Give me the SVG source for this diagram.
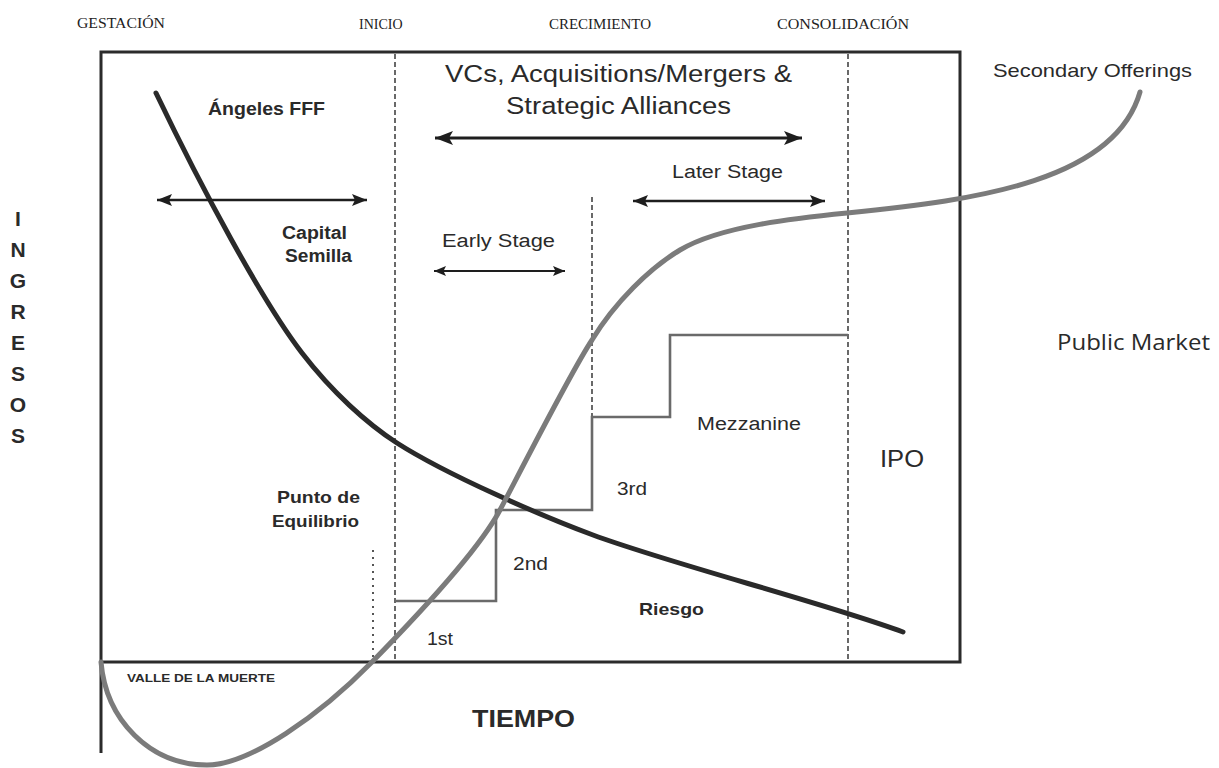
<svg xmlns="http://www.w3.org/2000/svg" width="1219" height="768" viewBox="0 0 1219 768">
  <style>
    .stage { font-family: "Liberation Serif", "Times New Roman", serif; font-size: 14px; fill: #222; }
    .lbl { font-family: "Liberation Sans", Arial, sans-serif; fill: #2a2a2a; }
    .b { font-weight: bold; }
    .frame { stroke: #2b2b2b; stroke-width: 3; fill: none; }
    .dash { stroke: #444; stroke-width: 1.6; stroke-dasharray: 5 3; fill: none; }
    .dot { stroke: #555; stroke-width: 2; stroke-dasharray: 2 5; fill: none; }
    .steps { stroke: #6a6a6a; stroke-width: 2.6; fill: none; }
    .risk { stroke: #2a2a2a; stroke-width: 5; fill: none; stroke-linecap: round; }
    .scurve { stroke: #7b7b7b; stroke-width: 5; fill: none; stroke-linecap: round; }
    .arr { stroke: #1e1e1e; fill: none; }
  </style>
  <defs>
    <marker id="headL" markerUnits="userSpaceOnUse" markerWidth="19" markerHeight="16" refX="18" refY="8" orient="auto-start-reverse">
      <path d="M0,1 L18,8 L0,15 L4,8 Z" fill="#1e1e1e"/>
    </marker>
    <marker id="headM" markerUnits="userSpaceOnUse" markerWidth="16" markerHeight="13" refX="15" refY="6.5" orient="auto-start-reverse">
      <path d="M0,0.5 L15,6.5 L0,12.5 L3,6.5 Z" fill="#1e1e1e"/>
    </marker>
    <marker id="headS" markerUnits="userSpaceOnUse" markerWidth="13" markerHeight="11" refX="12" refY="5.5" orient="auto-start-reverse">
      <path d="M0,0.5 L12,5.5 L0,10.5 L2.5,5.5 Z" fill="#1e1e1e"/>
    </marker>
  </defs>

  <rect width="1219" height="768" fill="#ffffff"/>

  <!-- stage headings -->
  <g id="stages">
    <text class="stage" x="77" y="28" textLength="88" lengthAdjust="spacingAndGlyphs">GESTACIÓN</text>
    <text class="stage" x="359" y="29">INICIO</text>
    <text class="stage" x="549" y="29" textLength="102" lengthAdjust="spacingAndGlyphs">CRECIMIENTO</text>
    <text class="stage" x="777" y="29" textLength="132" lengthAdjust="spacingAndGlyphs">CONSOLIDACIÓN</text>
  </g>

  <!-- chart frame and axes -->
  <g id="frame">
    <path class="frame" d="M101,753 V52 H960 V662 H101"/>
    <line class="dash" x1="395" y1="54" x2="395" y2="661"/>
    <line class="dash" x1="848" y1="54" x2="848" y2="661"/>
    <line class="dash" x1="592" y1="197" x2="592" y2="417"/>
    <line class="dot" x1="373" y1="550" x2="373" y2="661"/>
  </g>

  <!-- financing rounds -->
  <g id="rounds">
    <path class="steps" d="M395,601 H496 V510 H592 V417 H670 V335 H848"/>
  </g>

  <g id="connectors">
    <!-- risk curve -->
    <path id="riesgo-curve" class="risk" d="M156,93 C201,187 262,301 302,353 C332,392 367,423.5 397,443 C447,475 543,516.5 593,535 C673,564.6 823,602.4 903,632"/>
    <!-- revenue S-curve -->
    <path id="ingresos-curve" class="scurve" d="M101,662 C106,720 150,765 207,765 C250,765 320,715 372,662 C420,613 480,548 500,510 C520,472 572,370 592,340 C615,302 650,268 680,250 C720,226 797,218 847,213 C980,200 1115,180 1140,92"/>
    <!-- span arrows -->
    <line class="arr" stroke-width="3" x1="435" y1="138" x2="802" y2="138" marker-start="url(#headL)" marker-end="url(#headL)"/>
    <line class="arr" stroke-width="2.5" x1="157" y1="200" x2="367" y2="200" marker-start="url(#headM)" marker-end="url(#headM)"/>
    <line class="arr" stroke-width="2.5" x1="633" y1="201" x2="825" y2="201" marker-start="url(#headM)" marker-end="url(#headM)"/>
    <line class="arr" stroke-width="2" x1="434" y1="271" x2="565" y2="271" marker-start="url(#headS)" marker-end="url(#headS)"/>
  </g>

  <!-- vertical axis title -->
  <g id="axis-y" class="lbl b" font-size="21" text-anchor="middle">
    <text x="18" y="226">I</text>
    <text x="18" y="257">N</text>
    <text x="18" y="288">G</text>
    <text x="18" y="319">R</text>
    <text x="18" y="350">E</text>
    <text x="18" y="381">S</text>
    <text x="18" y="412">O</text>
    <text x="18" y="443">S</text>
  </g>

  <g id="axis-x">
    <text class="lbl b" x="472" y="727" font-size="23" textLength="103" lengthAdjust="spacingAndGlyphs">TIEMPO</text>
  </g>

  <g id="label-angeles">
    <text class="lbl b" x="208" y="115" font-size="18" textLength="117" lengthAdjust="spacingAndGlyphs">Ángeles FFF</text>
  </g>
  <g id="label-capital">
    <text class="lbl b" x="282" y="239" font-size="18" textLength="65" lengthAdjust="spacingAndGlyphs">Capital</text>
    <text class="lbl b" x="285" y="262" font-size="18" textLength="67" lengthAdjust="spacingAndGlyphs">Semilla</text>
  </g>
  <g id="label-vcs">
    <text class="lbl" x="445" y="82" font-size="23" textLength="347" lengthAdjust="spacingAndGlyphs">VCs, Acquisitions/Mergers &amp;</text>
    <text class="lbl" x="506" y="114" font-size="23" textLength="225" lengthAdjust="spacingAndGlyphs">Strategic Alliances</text>
  </g>
  <g id="label-later">
    <text class="lbl" x="672" y="178" font-size="18" textLength="111" lengthAdjust="spacingAndGlyphs">Later Stage</text>
  </g>
  <g id="label-early">
    <text class="lbl" x="442" y="247" font-size="18" textLength="113" lengthAdjust="spacingAndGlyphs">Early Stage</text>
  </g>
  <g id="label-mezzanine">
    <text class="lbl" x="697" y="430" font-size="18" textLength="104" lengthAdjust="spacingAndGlyphs">Mezzanine</text>
  </g>
  <g id="label-3rd">
    <text class="lbl" x="617" y="495" font-size="18" textLength="30" lengthAdjust="spacingAndGlyphs">3rd</text>
  </g>
  <g id="label-2nd">
    <text class="lbl" x="513" y="570" font-size="18" textLength="35" lengthAdjust="spacingAndGlyphs">2nd</text>
  </g>
  <g id="label-1st">
    <text class="lbl" x="427" y="645" font-size="18" textLength="26" lengthAdjust="spacingAndGlyphs">1st</text>
  </g>
  <g id="label-riesgo">
    <text class="lbl b" x="639" y="615" font-size="17" textLength="65" lengthAdjust="spacingAndGlyphs">Riesgo</text>
  </g>
  <g id="label-equilibrio">
    <text class="lbl b" x="277" y="503" font-size="17" textLength="83" lengthAdjust="spacingAndGlyphs">Punto de</text>
    <text class="lbl b" x="272" y="527" font-size="17" textLength="87" lengthAdjust="spacingAndGlyphs">Equilibrio</text>
  </g>
  <g id="label-valle">
    <text class="lbl b" x="127" y="682" font-size="11.5" textLength="148" lengthAdjust="spacingAndGlyphs">VALLE DE LA MUERTE</text>
  </g>
  <g id="label-ipo">
    <text class="lbl" x="880" y="467" font-size="24" textLength="44" lengthAdjust="spacingAndGlyphs">IPO</text>
  </g>
  <g id="label-secondary">
    <text class="lbl" x="993" y="77" font-size="19" textLength="199" lengthAdjust="spacingAndGlyphs">Secondary Offerings</text>
  </g>
  <g id="label-public">
    <text x="1057" y="350" font-family="'Open Sans', 'Noto Sans', sans-serif" font-size="22" fill="#2a2a2a" textLength="153" lengthAdjust="spacingAndGlyphs">Public Market</text>
  </g>
</svg>
